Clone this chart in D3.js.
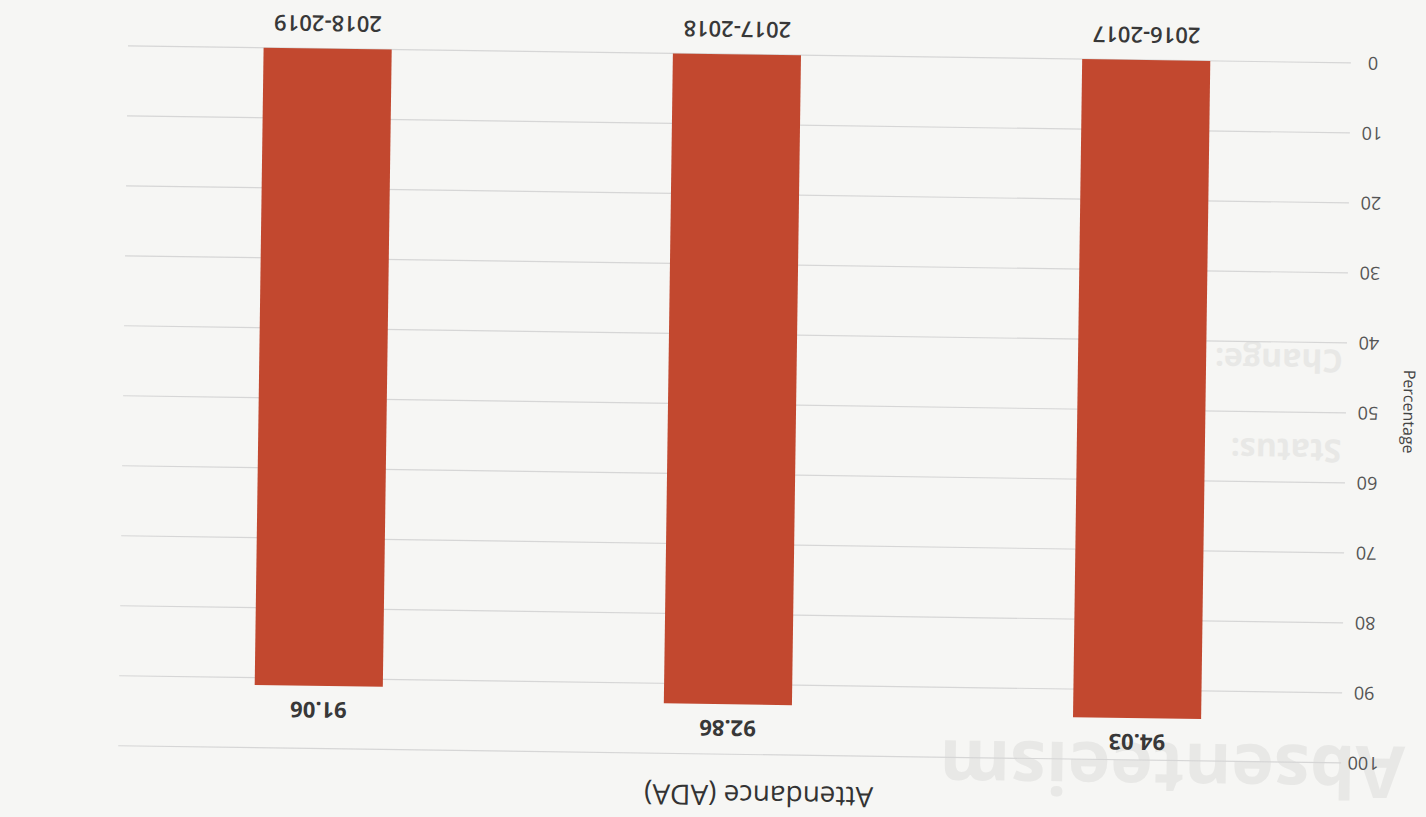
<!DOCTYPE html>
<html>
<head>
<meta charset="utf-8">
<script src="https://cdn.jsdelivr.net/npm/d3@7"></script>
<style>
  body { margin: 0; background: #f6f6f4; }
  svg { display: block; }
</style>
</head>
<body>
<svg id="chart"></svg>
<script>
// scanned page, chart printed upside down
var years = ['2016-2017', '2017-2018', '2018-2019'];
var ada = [94.03, 92.86, 91.06];
var yTicks = [0, 10, 20, 30, 40, 50, 60, 70, 80, 90, 100];
var title = 'Attendance (ADA)';
var yLabel = 'Percentage';
var ghostWords = ['Absenteeism', 'Status:', 'Change:'];

var width = 1426, height = 817;
var svg = d3.select('#chart').attr('width', width).attr('height', height);

svg.append('rect')
    .attr('width', width).attr('height', height)
    .attr('fill', '#f6f6f4');

// whole chart drawn upright then flipped (plus a slight scan tilt)
var g = svg.append('g')
    .attr('transform', 'rotate(180.8,' + width / 2 + ',' + height / 2 + ')');

// bleed-through from the other side of the sheet
var ghost = g.append('g')
    .style('font-family', 'Open Sans, sans-serif')
    .style('font-weight', 700)
    .attr('fill', '#e8e8e6');
ghost.append('text').text(ghostWords[0])
    .attr('x', 16).attr('y', 80)
    .style('font-size', '72px');
ghost.append('text').text(ghostWords[1])
    .attr('x', 84).attr('y', 386)
    .style('font-size', '32px');
ghost.append('text').text(ghostWords[2])
    .attr('x', 84).attr('y', 476)
    .style('font-size', '32px');

var x = d3.scaleBand()
    .domain(years)
    .range([80, 1308])
    .paddingInner(0.687)
    .paddingOuter(0.3435);

var y = d3.scaleLinear()
    .domain([0, 100])
    .range([763, 63]);

g.selectAll('line.grid')
    .data(yTicks)
    .enter().append('line')
        .attr('class', 'grid')
        .attr('x1', 80)
        .attr('x2', 1303)
        .attr('y1', d => y(d))
        .attr('y2', d => y(d))
        .attr('stroke', '#d6d6d6')
        .attr('stroke-width', 1.2);

g.selectAll('text.tick')
    .data(yTicks)
    .enter().append('text')
        .attr('class', 'tick')
        .attr('x', 58)
        .attr('y', d => y(d))
        .attr('dy', '0.35em')
        .attr('text-anchor', 'middle')
        .style('font-family', 'Open Sans, sans-serif')
        .style('font-size', '18px')
        .attr('fill', '#555')
        .text(d => d);

g.selectAll('rect.bar')
    .data(ada)
    .enter().append('rect')
        .attr('class', 'bar')
        .attr('x', (d, i) => x(years[i]))
        .attr('width', x.bandwidth())
        .attr('y', d => y(d))
        .attr('height', d => y(0) - y(d))
        .attr('fill', '#c2482f');

g.selectAll('text.value')
    .data(ada)
    .enter().append('text')
        .attr('class', 'value')
        .attr('x', (d, i) => x(years[i]) + x.bandwidth() / 2)
        .attr('y', d => y(d) - 16)
        .attr('text-anchor', 'middle')
        .style('font-family', 'Open Sans, sans-serif')
        .style('font-weight', 700)
        .style('font-size', '22px')
        .attr('fill', '#383838')
        .text(d => d.toFixed(2));

g.selectAll('text.cat')
    .data(years)
    .enter().append('text')
        .attr('class', 'cat')
        .attr('x', d => x(d) + x.bandwidth() / 2)
        .attr('y', 796)
        .attr('text-anchor', 'middle')
        .style('font-family', 'Open Sans, sans-serif')
        .style('font-weight', 600)
        .style('font-size', '22px')
        .attr('fill', '#383838')
        .text(d => d);

g.append('text')
    .attr('x', 662)
    .attr('y', 32)
    .attr('text-anchor', 'middle')
    .style('font-family', 'Open Sans, sans-serif')
    .style('font-size', '28px')
    .attr('fill', '#333')
    .text(title);

g.append('text')
    .attr('transform', 'translate(17,415) rotate(-90)')
    .attr('text-anchor', 'middle')
    .attr('dy', '0.35em')
    .style('font-family', 'Open Sans, sans-serif')
    .style('font-size', '16px')
    .attr('fill', '#444')
    .text(yLabel);
</script>
</body>
</html>
